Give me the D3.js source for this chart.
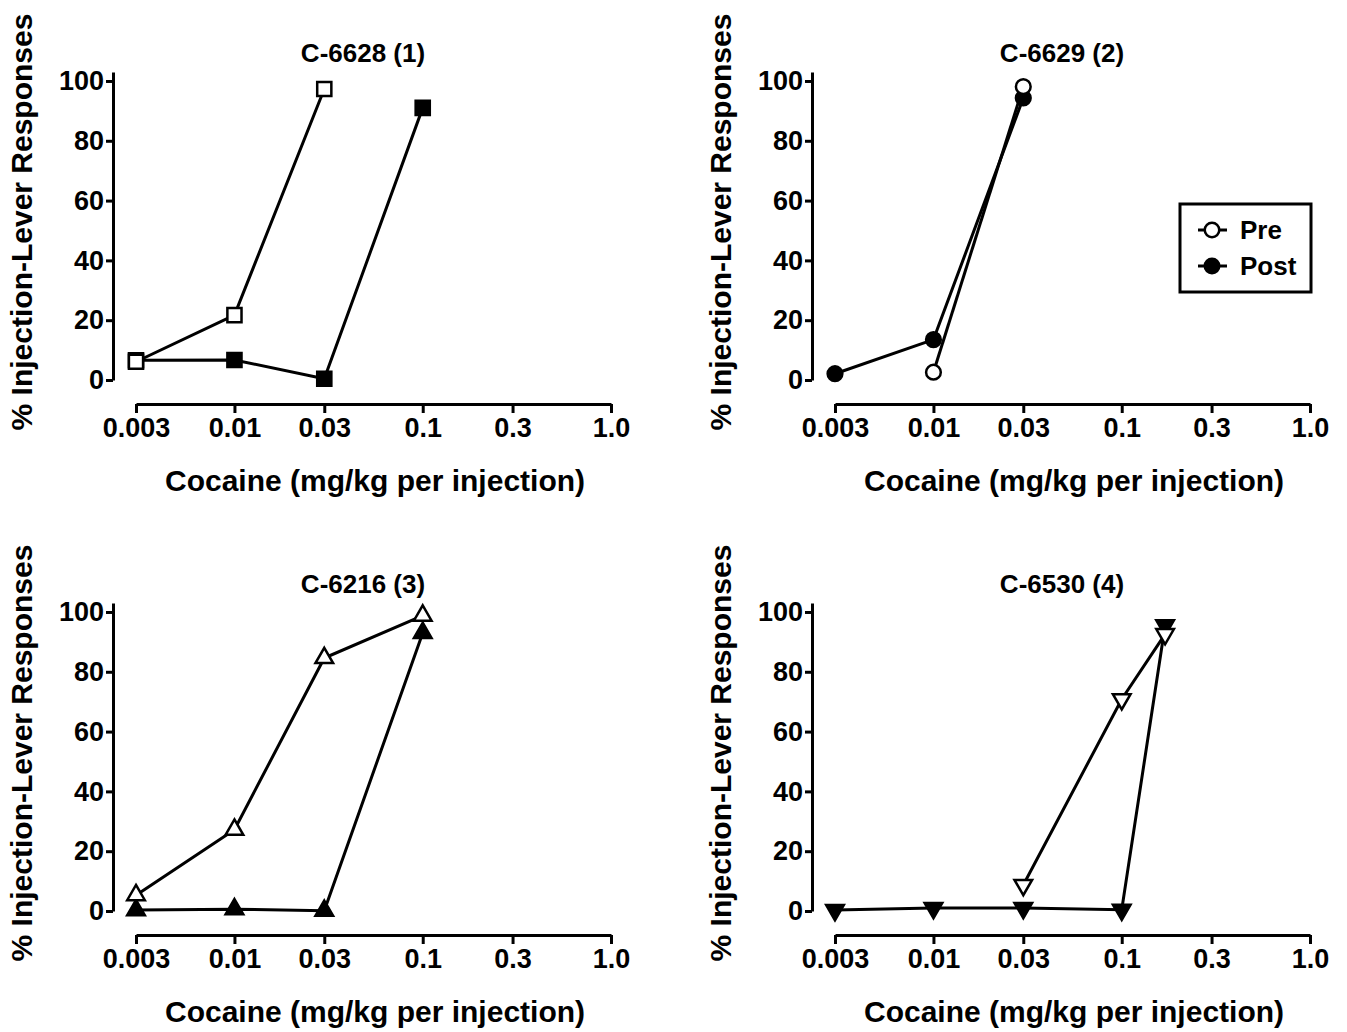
<!DOCTYPE html>
<html>
<head>
<meta charset="utf-8">
<script src="https://cdn.jsdelivr.net/npm/d3@7"></script>
<style>
    body { margin: 0; background: #fff; }
    svg { display: block; }
    text { font-family: "Liberation Sans", Arial, Helvetica, sans-serif; font-weight: bold; fill: #000; }
</style>
</head>
<body>
<div id="chart"></div>
<script>
var doses = [0.003, 0.01, 0.03, 0.1, 0.3, 1.0];
var doseLabels = ['0.003', '0.01', '0.03', '0.1', '0.3', '1.0'];
var yTicks = [0, 20, 40, 60, 80, 100];
var titles = ['C-6628 (1)', 'C-6629 (2)', 'C-6216 (3)', 'C-6530 (4)'];
var seriesNames = ['Pre', 'Post'];

// C-6628 (1)
var preDoses1 = [0.003, 0.01, 0.03];
var preValues1 = [6.1, 21.7, 97.3];
var postDoses1 = [0.003, 0.01, 0.03, 0.1];
var postValues1 = [6.6, 6.7, 0.4, 91];

// C-6629 (2)
var preDoses2 = [0.01, 0.03];
var preValues2 = [2.6, 98.1];
var postDoses2 = [0.003, 0.01, 0.03];
var postValues2 = [2.1, 13.5, 94.3];

// C-6216 (3)
var preDoses3 = [0.003, 0.01, 0.03, 0.1];
var preValues3 = [5.3, 27.2, 84.6, 98.8];
var postDoses3 = [0.003, 0.01, 0.03, 0.1];
var postValues3 = [0.3, 0.6, 0.1, 93];

// C-6530 (4)
var preDoses4 = [0.03, 0.1, 0.17];
var preValues4 = [8.7, 70.8, 92.6];
var postDoses4 = [0.003, 0.01, 0.03, 0.1, 0.17];
var postValues4 = [0.3, 1.0, 1.0, 0.4, 95.5];

var panels = [
    { title: titles[0], shape: d3.symbolSquare, size: 200, rotate: 0,
      pre: [preDoses1, preValues1], post: [postDoses1, postValues1], legend: false },
    { title: titles[1], shape: d3.symbolCircle, size: 170, rotate: 0,
      pre: [preDoses2, preValues2], post: [postDoses2, postValues2], legend: true },
    { title: titles[2], shape: d3.symbolTriangle, size: 135, rotate: 0,
      pre: [preDoses3, preValues3], post: [postDoses3, postValues3], legend: false },
    { title: titles[3], shape: d3.symbolTriangle, size: 135, rotate: 180,
      pre: [preDoses4, preValues4], post: [postDoses4, postValues4], legend: false }
];

var width = 1347,
    height = 1032,
    panelDx = 699,
    panelDy = 531;

var svg = d3.select('#chart').append('svg')
    .attr('width', width)
    .attr('height', height)
    .attr('viewBox', '0 0 ' + width + ' ' + height);

function zip(xs, ys) {
    return xs.map(function (x, i) { return { dose: x, value: ys[i] }; });
}

function drawPanel(panel, i) {
    var g = svg.append('g')
        .attr('transform', 'translate(' + (i % 2) * panelDx + ',' + Math.floor(i / 2) * panelDy + ')');

    var x = d3.scaleLog().domain([0.003, 1]).range([136, 611]);
    var y = d3.scaleLinear().domain([0, 103]).range([380, 72]);

    var xAxis = d3.axisBottom(x)
        .tickValues(doses)
        .tickFormat(function (d, k) { return doseLabels[k]; })
        .tickSize(9)
        .tickSizeOuter(0)
        .tickPadding(5);

    var yAxis = d3.axisLeft(y)
        .tickValues(yTicks)
        .tickSize(7)
        .tickSizeOuter(0)
        .tickPadding(2);

    var gx = g.append('g').attr('transform', 'translate(0,404)').call(xAxis);
    var gy = g.append('g').attr('transform', 'translate(113,0)').call(yAxis);

    [gx, gy].forEach(function (a) {
        a.attr('font-size', null).attr('font-family', null);
        a.selectAll('path, line').attr('stroke', '#000').attr('stroke-width', 3);
        a.selectAll('text').style('font-size', '27px');
    });

    g.append('text')
        .attr('x', 363)
        .attr('y', 62)
        .attr('text-anchor', 'middle')
        .style('font-size', '26px')
        .text(panel.title);

    g.append('text')
        .attr('x', 375)
        .attr('y', 491)
        .attr('text-anchor', 'middle')
        .style('font-size', '30px')
        .text('Cocaine (mg/kg per injection)');

    g.append('text')
        .attr('transform', 'translate(32,222) rotate(-90)')
        .attr('text-anchor', 'middle')
        .style('font-size', '30px')
        .text('% Injection-Lever Responses');

    var line = d3.line()
        .x(function (d) { return x(d.dose); })
        .y(function (d) { return y(d.value); });

    var symbol = d3.symbol().type(panel.shape).size(panel.size);

    // post first so the open (pre) markers sit on top
    var series = [
        { data: zip(panel.post[0], panel.post[1]), fill: '#000' },
        { data: zip(panel.pre[0], panel.pre[1]), fill: '#fff' }
    ];

    series.forEach(function (s) {
        g.append('path')
            .datum(s.data)
            .attr('fill', 'none')
            .attr('stroke', '#000')
            .attr('stroke-width', 3)
            .attr('d', line);
    });

    series.forEach(function (s) {
        g.selectAll(null)
            .data(s.data)
            .enter().append('path')
            .attr('d', symbol)
            .attr('transform', function (d) {
                return 'translate(' + x(d.dose) + ',' + y(d.value) + ') rotate(' + panel.rotate + ')';
            })
            .attr('fill', s.fill)
            .attr('stroke', '#000')
            .attr('stroke-width', 2.5);
    });

    if (panel.legend) {
        var lg = g.append('g').attr('transform', 'translate(481,204)');
        lg.append('rect')
            .attr('width', 131)
            .attr('height', 88)
            .attr('fill', '#fff')
            .attr('stroke', '#000')
            .attr('stroke-width', 3);

        var fills = ['#fff', '#000'];
        seriesNames.forEach(function (name, k) {
            var row = lg.append('g').attr('transform', 'translate(0,' + (26 + k * 36) + ')');
            row.append('line')
                .attr('x1', 18).attr('x2', 47)
                .attr('stroke', '#000').attr('stroke-width', 3);
            row.append('path')
                .attr('d', d3.symbol().type(d3.symbolCircle).size(165))
                .attr('transform', 'translate(32,0)')
                .attr('fill', fills[k])
                .attr('stroke', '#000')
                .attr('stroke-width', 2.5);
            row.append('text')
                .attr('x', 60)
                .attr('y', 9)
                .style('font-size', '26px')
                .text(name);
        });
    }
}

panels.forEach(drawPanel);
</script>
</body>
</html>
